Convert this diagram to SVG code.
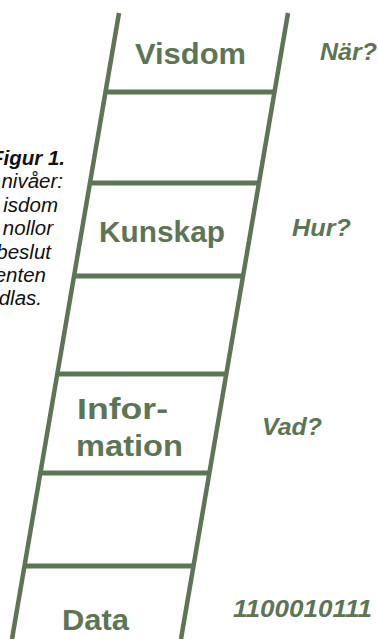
<svg xmlns="http://www.w3.org/2000/svg" width="378" height="639" viewBox="0 0 378 639">
<style>
.rail{stroke:#5c7555;stroke-width:4.5;fill:none;stroke-linecap:butt}
.rung{stroke:#5c7555;stroke-width:5;fill:none}
.lbl{font-family:"Liberation Sans",Arial,sans-serif;font-weight:bold;font-size:30px;fill:#5c7555}
.q{font-family:"Liberation Sans",Arial,sans-serif;font-weight:bold;font-style:italic;font-size:23px;fill:#5c7555}
.cap{font-family:"Liberation Sans",Arial,sans-serif;font-style:italic;font-size:20.5px;fill:#111;text-anchor:end}
</style>
<rect width="378" height="639" fill="#fff"/>
<g id="caption">
<text class="cap" x="65" y="165" font-weight="bold" font-size="19.5">Figur 1.</text>
<text class="cap" x="63" y="188">nivåer:</text>
<text class="cap" x="58" y="212">isdom</text>
<text class="cap" x="53" y="235">nollor</text>
<text class="cap" x="51" y="259">beslut</text>
<text class="cap" x="46" y="282">enten</text>
<text class="cap" x="42" y="305">dlas.</text>
</g>
<g id="connectors">
<line class="rail" x1="119" y1="13" x2="12" y2="639"/>
<line class="rail" x1="288" y1="13" x2="181" y2="639"/>
<line class="rung" x1="105.5" y1="92" x2="274.5" y2="92"/>
<line class="rung" x1="90" y1="183" x2="259" y2="183"/>
<line class="rung" x1="74" y1="276" x2="243" y2="276"/>
<line class="rung" x1="57" y1="374" x2="226" y2="374"/>
<line class="rung" x1="40" y1="473" x2="209" y2="473"/>
<line class="rung" x1="24.5" y1="566" x2="193.5" y2="566"/>
</g>
<g id="visdom"><text class="lbl" x="135" y="64" textLength="111" lengthAdjust="spacingAndGlyphs">Visdom</text></g>
<g id="kunskap"><text class="lbl" x="99" y="242" textLength="126" lengthAdjust="spacingAndGlyphs">Kunskap</text></g>
<g id="information">
<text class="lbl" x="77" y="419" textLength="91" lengthAdjust="spacingAndGlyphs">Infor-</text>
<text class="lbl" x="76" y="456" textLength="107" lengthAdjust="spacingAndGlyphs">mation</text>
</g>
<g id="data"><text class="lbl" x="62" y="630" textLength="67" lengthAdjust="spacingAndGlyphs">Data</text></g>
<g id="nar"><text class="q" x="320" y="60" textLength="57" lengthAdjust="spacingAndGlyphs">När?</text></g>
<g id="hur"><text class="q" x="292" y="236" textLength="59" lengthAdjust="spacingAndGlyphs">Hur?</text></g>
<g id="vad"><text class="q" x="262" y="435" textLength="60" lengthAdjust="spacingAndGlyphs">Vad?</text></g>
<g id="bits"><text class="q" x="233" y="617" textLength="139" lengthAdjust="spacingAndGlyphs">1100010111</text></g>
</svg>
